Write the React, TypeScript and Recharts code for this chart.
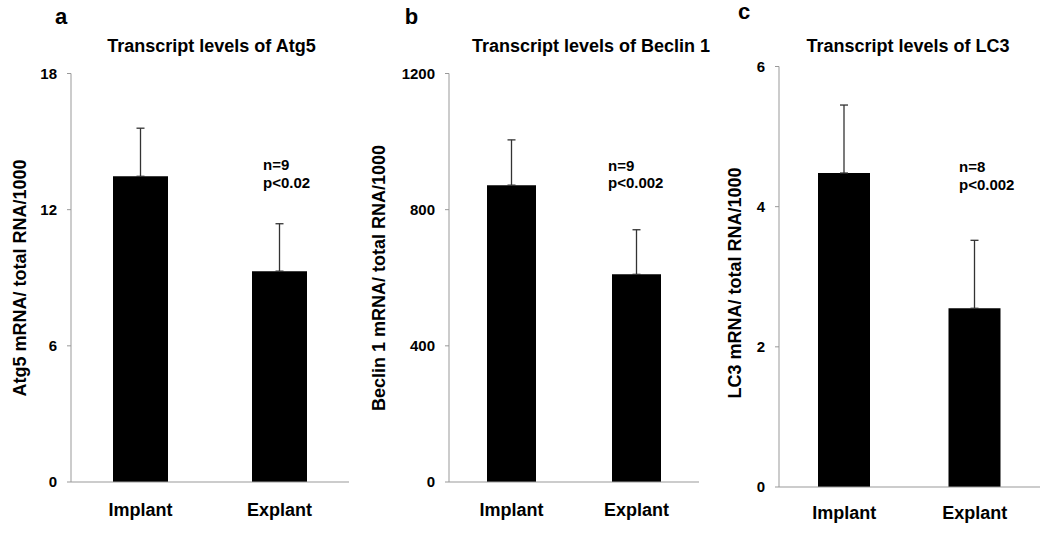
import React from 'react';
import { BarChart, Bar, XAxis, YAxis, ErrorBar } from 'recharts';

const categories = ['Implant', 'Explant'];

const atg5Values = [13.47, 9.29];
const atg5Errors = [2.12, 2.09];
const atg5Ticks = [0, 6, 12, 18];

const beclinValues = [872, 610];
const beclinErrors = [133, 131];
const beclinTicks = [0, 400, 800, 1200];

const lc3Values = [4.48, 2.55];
const lc3Errors = [0.97, 0.97];
const lc3Ticks = [0, 2, 4, 6];

const boundaryTicks = [0, 1, 2];

const titles = ['Transcript levels of Atg5', 'Transcript levels of Beclin 1', 'Transcript levels of LC3'];
const yLabels = ['Atg5 mRNA/ total RNA/1000', 'Beclin 1 mRNA/ total RNA/1000', 'LC3 mRNA/ total RNA/1000'];
const panelLetters = ['a', 'b', 'c'];
const nLabels = ['n=9', 'n=9', 'n=8'];
const pLabels = ['p<0.02', 'p<0.002', 'p<0.002'];

const FONT = '"Liberation Sans", Arial, Helvetica, sans-serif';
const Y_AXIS_W = 50;

const build = (vals: number[], errs: number[]) =>
  categories.map((c, i) => ({ name: c, value: vals[i], err: [0, errs[i]], pos: i + 0.5 }));

type PanelProps = {
  data: any[];
  ticks: number[];
  left: number;
  width: number;
  margin: { top: number; right: number; bottom: number; left: number };
  barSize: number;
  labelMargin: number;
};

function Panel({ data, ticks, left, width, margin, barSize, labelMargin }: PanelProps) {
  const tickStyle = { fontSize: 15, fontWeight: 700, fill: '#000', fontFamily: FONT };
  const m = { ...margin, left: margin.left - Y_AXIS_W, bottom: margin.bottom - 2 };
  return (
    <div style={{ position: 'absolute', left, top: 0, width, height: 535 }}>
      <BarChart width={width} height={535} data={data} margin={m}>
        <XAxis
          xAxisId="a_grid"
          dataKey="pos"
          type="number"
          domain={[0, 2]}
          ticks={boundaryTicks}
          tick={false}
          tickSize={5}
          stroke="#999"
          height={1}
          allowDataOverflow
        />
        <XAxis
          xAxisId="b_cat"
          dataKey="name"
          type="category"
          height={1}
          axisLine={false}
          tickLine={false}
          tickSize={0}
          tickMargin={labelMargin - 1}
          interval={0}
          tick={{ fontSize: 18, fontWeight: 700, fill: '#000', fontFamily: FONT }}
        />
        <YAxis
          type="number"
          domain={[0, ticks[ticks.length - 1]]}
          ticks={ticks}
          interval={0}
          width={Y_AXIS_W}
          tickSize={4}
          tickMargin={10}
          stroke="#999"
          tick={tickStyle}
          allowDataOverflow
        />
        <Bar xAxisId="b_cat" dataKey="value" fill="#000" barSize={barSize} isAnimationActive={false}>
          <ErrorBar dataKey="err" direction="y" width={4} stroke="#333" strokeWidth={1.3} />
        </Bar>
      </BarChart>
    </div>
  );
}

export default function App() {
  const titleX = [211.5, 591, 908];
  const titleY = [52, 52, 52];
  const letterPos = [
    [61, 23.5],
    [411.5, 23.5],
    [744, 19],
  ];
  const yLabelPos = [
    [25.5, 278],
    [385, 278],
    [741, 283],
  ];
  const annotPos = [
    [263, 169.5, 188],
    [608, 170.5, 188],
    [959, 171.5, 190],
  ];
  return (
    <div
      style={{
        position: 'absolute',
        left: 0,
        top: 0,
        width: 1050,
        height: 535,
        background: '#fff',
        fontFamily: FONT,
        overflow: 'hidden',
      }}
    >
      <Panel
        data={build(atg5Values, atg5Errors)}
        ticks={atg5Ticks}
        left={0}
        width={355}
        margin={{ top: 73.5, right: 6, bottom: 53, left: 71 }}
        barSize={55}
        labelMargin={21}
      />
      <Panel
        data={build(beclinValues, beclinErrors)}
        ticks={beclinTicks}
        left={360}
        width={345}
        margin={{ top: 73.5, right: 6, bottom: 53, left: 89 }}
        barSize={49}
        labelMargin={21}
      />
      <Panel
        data={build(lc3Values, lc3Errors)}
        ticks={lc3Ticks}
        left={710}
        width={340}
        margin={{ top: 66.5, right: 10, bottom: 48, left: 69 }}
        barSize={52}
        labelMargin={19}
      />
      <svg
        width={1050}
        height={535}
        style={{ position: 'absolute', left: 0, top: 0, pointerEvents: 'none' }}
        fontFamily={FONT}
        fontWeight={700}
      >
        {titles.map((t, i) => (
          <text key={'t' + i} x={titleX[i]} y={titleY[i]} textAnchor="middle" fontSize={18} fill="#000">
            {t}
          </text>
        ))}
        {panelLetters.map((l, i) => (
          <text key={'l' + i} x={letterPos[i][0]} y={letterPos[i][1]} textAnchor="middle" fontSize={22} fill="#000">
            {l}
          </text>
        ))}
        {yLabels.map((l, i) => (
          <text
            key={'y' + i}
            transform={`translate(${yLabelPos[i][0]},${yLabelPos[i][1]}) rotate(-90)`}
            textAnchor="middle"
            fontSize={18}
            fill="#000"
          >
            {l}
          </text>
        ))}
        {nLabels.map((n, i) => (
          <g key={'a' + i}>
            <text x={annotPos[i][0]} y={annotPos[i][1]} fontSize={15} fill="#000">
              {n}
            </text>
            <text x={annotPos[i][0]} y={annotPos[i][2]} fontSize={15} fill="#000">
              {pLabels[i]}
            </text>
          </g>
        ))}
      </svg>
    </div>
  );
}
